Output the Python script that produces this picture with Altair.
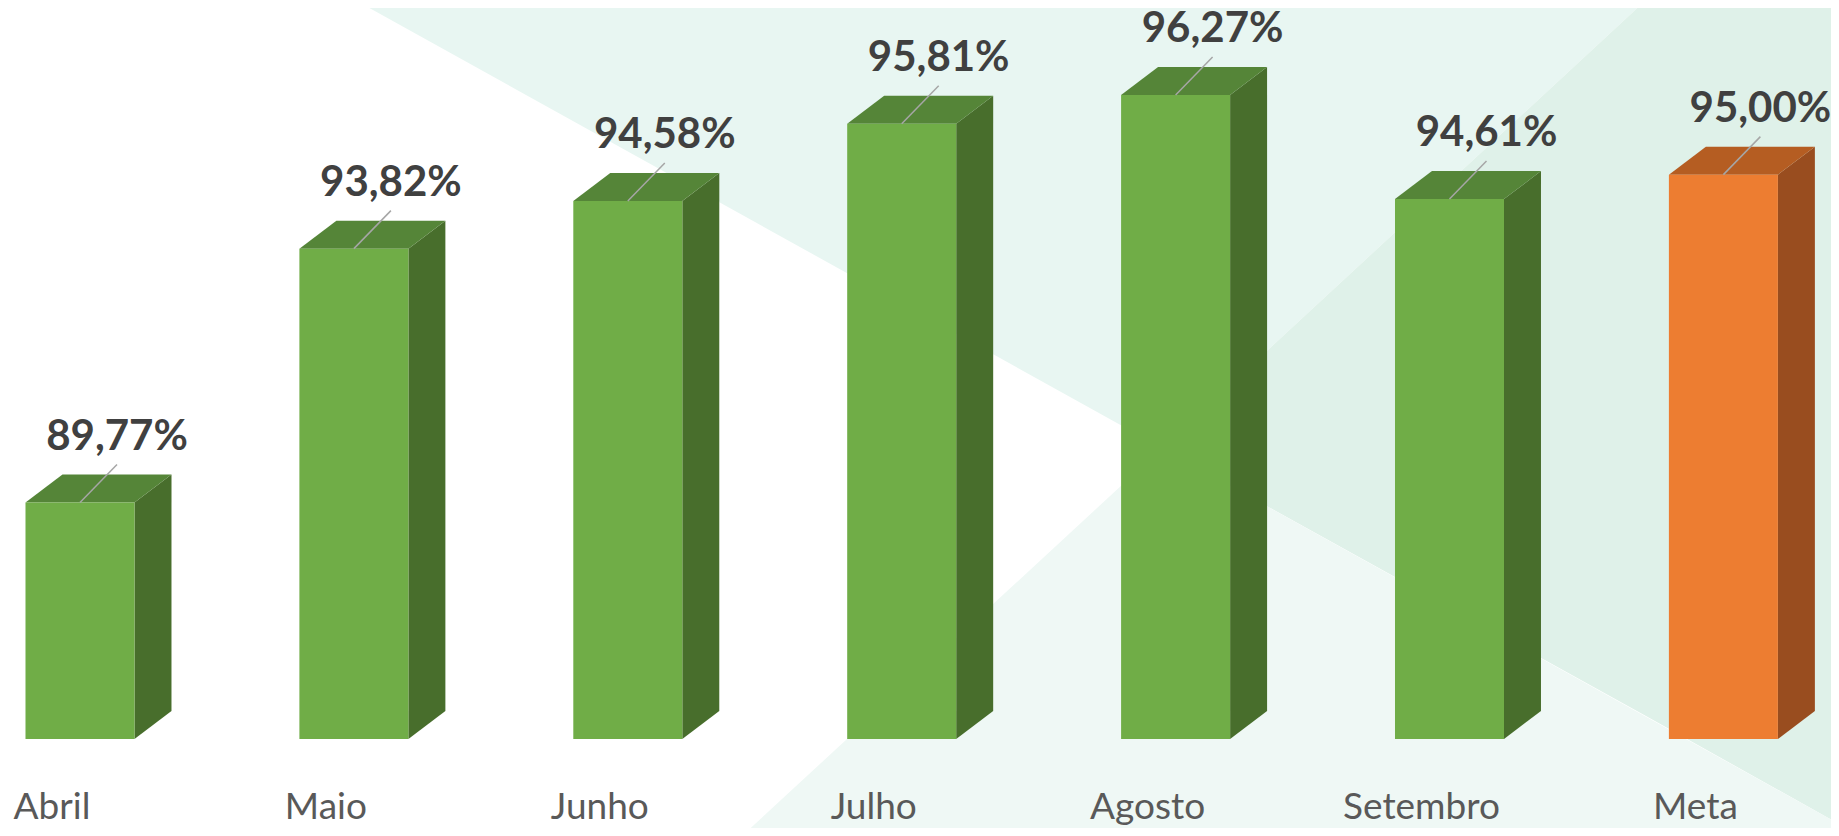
import altair as alt
import pandas as pd

# ---- data -------------------------------------------------------------
categorias = ["Abril", "Maio", "Junho", "Julho", "Agosto", "Setembro", "Meta"]
valores = [89.77, 93.82, 94.58, 95.81, 96.27, 94.61, 95.00]
tipos = ["mes", "mes", "mes", "mes", "mes", "mes", "meta"]

# ---- geometry / style constants ----------------------------------------
BASE = 86.0          # bottom of the value axis
HALF = 0.199         # half bar width, in category steps
DEPTH_X = 0.135      # 3-D depth, in category steps
DEPTH_Y = 0.4465     # 3-D depth, in value units

W, H = 1823, 820

XS = alt.Scale(domain=[0, 6], range=[72, 1715.4], nice=False, zero=False)
YS = alt.Scale(domain=[86, 96.27], range=[731, 87], nice=False, zero=False)

FRONT = alt.Scale(domain=["mes", "meta"], range=["#70ad47", "#ed7d31"])
TOPC = alt.Scale(domain=["mes", "meta"], range=["#558538", "#b55d22"])
SIDEC = alt.Scale(domain=["mes", "meta"], range=["#486e2c", "#994d1f"])


def fmt(v):
    return f"{v:.2f}%".replace(".", ",")


df = pd.DataFrame({
    "cat": categorias,
    "idx": list(range(len(categorias))),
    "val": valores,
    "tipo": tipos,
})
df["base"] = BASE
df["x0"] = df["idx"] - HALF
df["x1"] = df["idx"] + HALF
df["label"] = [fmt(v) for v in valores]

top_rows, side_rows = [], []
for c, i, v, t in zip(categorias, range(len(categorias)), valores, tipos):
    top_rows.append({"cat": c, "tipo": t, "ty": v, "tx": i - HALF, "tx2": i + HALF})
    top_rows.append({"cat": c, "tipo": t, "ty": v + DEPTH_Y,
                     "tx": i - HALF + DEPTH_X, "tx2": i + HALF + DEPTH_X})
    side_rows.append({"cat": c, "tipo": t, "sx": i + HALF, "sy": v, "sy2": BASE})
    side_rows.append({"cat": c, "tipo": t, "sx": i + HALF + DEPTH_X,
                      "sy": v + DEPTH_Y, "sy2": BASE + DEPTH_Y})
top_df = pd.DataFrame(top_rows)
side_df = pd.DataFrame(side_rows)

# ---- decorative background (page coordinates) --------------------------
bg_region = ["top", "top", "top", "right", "right", "right", "low", "low", "low"]
bg_x = [355, 1162, 1646, 1162, 1646, 1839, 742, 1162, 1839]
bg_y = [0, 0, 0, 448, 0, 0, 836, 448, 824]
bg_y2 = [0, 448, 0, 448, 716, 824, 836, 836, 836]
bg_df = pd.DataFrame({"region": bg_region, "bx": bg_x, "by": bg_y, "by2": bg_y2})
BXS = alt.Scale(domain=[8, 8 + W], range=[0, W], nice=False, zero=False)
BYS = alt.Scale(domain=[8, 8 + H], range=[0, H], nice=False, zero=False)

background = alt.Chart(bg_df).mark_area(orient="vertical").encode(
    x=alt.X("bx:Q", scale=BXS, axis=None),
    y=alt.Y("by:Q", scale=BYS, axis=None, stack=None),
    y2="by2:Q",
    detail="region:N",
    color=alt.Color("region:N", legend=None,
                    scale=alt.Scale(domain=["top", "right", "low"],
                                    range=["#e8f6f2", "#dff1e9", "#eff8f5"])),
)

side = alt.Chart(side_df).mark_area(orient="vertical").encode(
    x=alt.X("sx:Q", scale=XS, axis=None),
    y=alt.Y("sy:Q", scale=YS, axis=None, stack=None),
    y2="sy2:Q",
    detail="cat:N",
    color=alt.Color("tipo:N", scale=SIDEC, legend=None),
)

top = alt.Chart(top_df).mark_area(orient="horizontal").encode(
    y=alt.Y("ty:Q", scale=YS, axis=None),
    x=alt.X("tx:Q", scale=XS, axis=None, stack=None),
    x2="tx2:Q",
    detail="cat:N",
    color=alt.Color("tipo:N", scale=TOPC, legend=None),
)

front = alt.Chart(df).mark_rect().encode(
    x=alt.X("x0:Q", scale=XS, axis=None),
    x2="x1:Q",
    y=alt.Y("val:Q", scale=YS, axis=None),
    y2="base:Q",
    color=alt.Color("tipo:N", scale=FRONT, legend=None),
)

leader = alt.Chart(df).mark_rule(color="#a6a6a6", strokeWidth=1.5,
                                 x2Offset=37, y2Offset=-38).encode(
    x=alt.X("idx:Q", scale=XS, axis=None),
    x2="idx:Q",
    y=alt.Y("val:Q", scale=YS, axis=None),
    y2="val:Q",
)

values = alt.Chart(df).mark_text(font="Lato", fontWeight="bold", fontSize=42,
                                 color="#404040", dx=37, dy=-53,
                                 align="center", baseline="alphabetic").encode(
    x=alt.X("idx:Q", scale=XS, axis=None),
    y=alt.Y("val:Q", scale=YS, axis=None),
    text="label:N",
)

cats = alt.Chart(df).mark_text(font="Lato", fontSize=37, color="#595959",
                               dx=-28, dy=80, align="center",
                               baseline="alphabetic").encode(
    x=alt.X("idx:Q", scale=XS, axis=None),
    y=alt.Y("base:Q", scale=YS, axis=None),
    text="cat:N",
)

chart = alt.layer(background, side, top, front, leader, values, cats).resolve_scale(
    x="independent", y="independent", color="independent"
).properties(
    width=W, height=H, padding=0, autosize=alt.AutoSizeParams(type="none"),
    background="#ffffff",
).configure_view(stroke=None)

chart.save("out.html", embed_options={"renderer": "svg", "actions": False})
